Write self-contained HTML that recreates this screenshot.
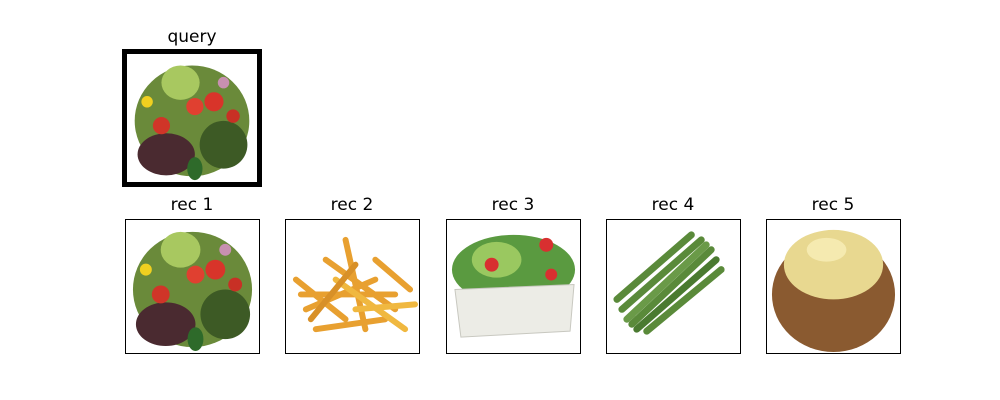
<!DOCTYPE html>
<html><head><meta charset="utf-8"><style>
body{margin:0;width:1000px;height:400px;background:#fff;overflow:hidden;font-family:"DejaVu Sans","Liberation Sans",sans-serif}
.t{position:absolute;font-size:17px;color:#000;text-align:center;width:140px}
.p{position:absolute;box-sizing:border-box;border:1px solid #000;background:#fff;overflow:hidden}
svg{display:block}
</style></head><body>
<div class="t" style="left:122px;top:27px">query</div>
<div class="p" style="left:122px;top:49px;width:140px;height:138px;border:5px solid #000">
<svg width="130" height="128" viewBox="0 0 134 134"><g>
<ellipse cx="67" cy="70" rx="60" ry="58" fill="#6a8a3a"/>
<ellipse cx="40" cy="105" rx="30" ry="22" fill="#4a2a30"/>
<ellipse cx="100" cy="95" rx="25" ry="25" fill="#3d5a25"/>
<ellipse cx="55" cy="30" rx="20" ry="18" fill="#a8c860"/>
<circle cx="90" cy="50" r="10" fill="#d8342a"/><circle cx="70" cy="55" r="9" fill="#e04030"/>
<circle cx="35" cy="75" r="9" fill="#d03528"/><circle cx="110" cy="65" r="7" fill="#c83025"/>
<circle cx="20" cy="50" r="6" fill="#f0d020"/><circle cx="100" cy="30" r="6" fill="#c890b0"/>
<ellipse cx="70" cy="120" rx="8" ry="12" fill="#2e6a2a"/></g></svg></div>

<div class="t" style="left:122px;top:195px">rec 1</div>
<div class="p" style="left:125px;top:219px;width:135px;height:135px">
<svg width="133" height="133" viewBox="0 0 134 134"><g>
<ellipse cx="67" cy="70" rx="60" ry="58" fill="#6a8a3a"/>
<ellipse cx="40" cy="105" rx="30" ry="22" fill="#4a2a30"/>
<ellipse cx="100" cy="95" rx="25" ry="25" fill="#3d5a25"/>
<ellipse cx="55" cy="30" rx="20" ry="18" fill="#a8c860"/>
<circle cx="90" cy="50" r="10" fill="#d8342a"/><circle cx="70" cy="55" r="9" fill="#e04030"/>
<circle cx="35" cy="75" r="9" fill="#d03528"/><circle cx="110" cy="65" r="7" fill="#c83025"/>
<circle cx="20" cy="50" r="6" fill="#f0d020"/><circle cx="100" cy="30" r="6" fill="#c890b0"/>
<ellipse cx="70" cy="120" rx="8" ry="12" fill="#2e6a2a"/></g></svg></div>

<div class="t" style="left:282px;top:195px">rec 2</div>
<div class="p" style="left:285px;top:219px;width:135px;height:135px">
<svg width="133" height="133" viewBox="0 0 134 134"><g stroke="#e8a030" stroke-width="6" stroke-linecap="round">
<line x1="10" y1="60" x2="60" y2="100"/><line x1="20" y1="90" x2="90" y2="60"/><line x1="40" y1="40" x2="110" y2="90"/>
<line x1="30" y1="110" x2="100" y2="100"/><line x1="60" y1="20" x2="80" y2="110"/><line x1="90" y1="40" x2="125" y2="70"/>
<line x1="15" y1="75" x2="110" y2="75"/><line x1="50" y1="60" x2="120" y2="110" stroke="#f0b840"/>
<line x1="25" y1="100" x2="70" y2="45" stroke="#d89028"/><line x1="70" y1="90" x2="130" y2="85" stroke="#f0b840"/></g></svg></div>

<div class="t" style="left:443px;top:195px">rec 3</div>
<div class="p" style="left:446px;top:219px;width:135px;height:135px">
<svg width="133" height="133" viewBox="0 0 134 134">
<ellipse cx="67" cy="50" rx="62" ry="35" fill="#5a9a40"/><ellipse cx="50" cy="40" rx="25" ry="18" fill="#9ac860"/>
<circle cx="45" cy="45" r="7" fill="#d83030"/><circle cx="100" cy="25" r="7" fill="#d83030"/><circle cx="105" cy="55" r="6" fill="#d83030"/>
<polygon points="8,70 128,65 124,112 14,118" fill="#ecece6" stroke="#c8c8c0"/></svg></div>

<div class="t" style="left:603px;top:195px">rec 4</div>
<div class="p" style="left:606px;top:219px;width:135px;height:135px">
<svg width="133" height="133" viewBox="0 0 134 134"><g stroke="#5a8a3a" stroke-width="7" stroke-linecap="round">
<line x1="10" y1="80" x2="85" y2="15"/><line x1="15" y1="90" x2="95" y2="20"/><line x1="20" y1="100" x2="100" y2="25" stroke="#6a9a48"/>
<line x1="25" y1="105" x2="105" y2="30"/><line x1="30" y1="110" x2="110" y2="40" stroke="#4a7a30"/><line x1="40" y1="112" x2="115" y2="50"/></g></svg></div>

<div class="t" style="left:763px;top:195px">rec 5</div>
<div class="p" style="left:766px;top:219px;width:135px;height:135px">
<svg width="133" height="133" viewBox="0 0 134 134">
<ellipse cx="67" cy="75" rx="62" ry="58" fill="#8a5a30"/><ellipse cx="67" cy="45" rx="50" ry="35" fill="#e8d890"/>
<ellipse cx="60" cy="30" rx="20" ry="12" fill="#f5eab0"/></svg></div>
</body></html>
